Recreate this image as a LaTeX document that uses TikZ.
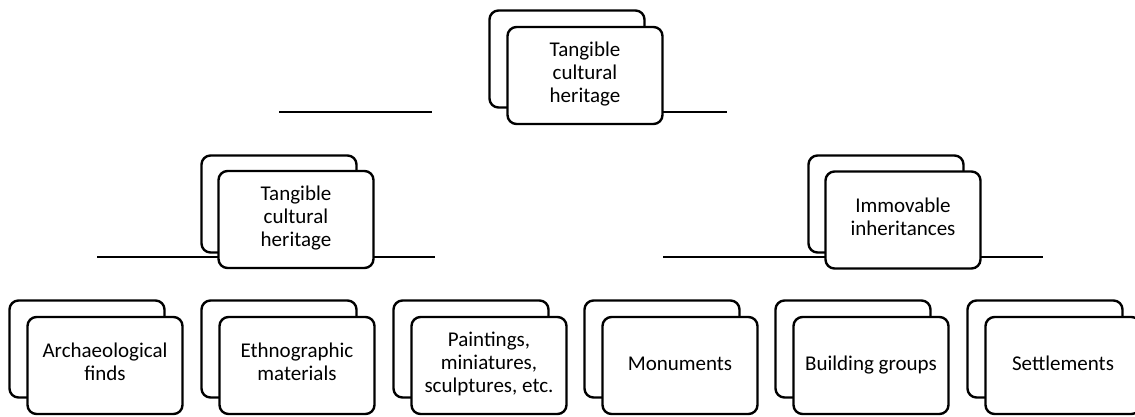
\documentclass[tikz,border=0pt]{standalone}
\usepackage{fontspec}
\setmainfont{Carlito}
\usepackage{tikz}
\tikzset{
  card/.style={draw=black, fill=white, line width=2.4pt, rounded corners=9pt,
    minimum width=155pt, minimum height=97pt, inner sep=2pt, align=center,
    font=\fontsize{21}{23}\selectfont,
    execute at begin node=\strut, execute at end node=\strut},
  rule/.style={draw=black, line width=2pt}
}
\begin{document}
\begin{tikzpicture}[x=1pt,y=-1pt]
\useasboundingbox (0,0) rectangle (1135,416);
\coordinate (ta) at (279,112);
\coordinate (tb) at (432,112);
\coordinate (tc) at (660,112);
\coordinate (td) at (727,112);
\coordinate (la) at (97,257);
\coordinate (lb) at (220,257);
\coordinate (lc) at (372,257);
\coordinate (ld) at (435,257);
\coordinate (ra) at (663,257);
\coordinate (rb) at (826,257);
\coordinate (rc) at (979,257);
\coordinate (rd) at (1043,257);
\draw[rule] (ta) -- (tb);
\draw[rule] (tc) -- (td);
\draw[rule] (la) -- (lb);
\draw[rule] (lc) -- (ld);
\draw[rule] (ra) -- (rb);
\draw[rule] (rc) -- (rd);
\node[card] (topback) at (567,59) {};
\node[card] (top) at (585,75.5) {Tangible\\cultural\\heritage};
\node[card] (tangback) at (279,204) {};
\node[card] (tang) at (296,219.5) {Tangible\\cultural\\heritage};
\node[card] (immback) at (886,204) {};
\node[card] (imm) at (903,220) {Immovable\\inheritances};
\node[card] (archback) at (87,349) {};
\node[card] (arch) at (105,365.5) {Archaeological\\finds};
\node[card] (ethnback) at (279,349) {};
\node[card] (ethn) at (297,365.5) {Ethnographic\\materials};
\node[card] (paintback) at (471,349) {};
\node[card] (paint) at (489,365.5) {Paintings,\\miniatures,\\sculptures, etc.};
\node[card] (monback) at (662,349) {};
\node[card] (mon) at (680,365.5) {Monuments};
\node[card] (buildback) at (853,349) {};
\node[card] (build) at (871,365.5) {Building groups};
\node[card] (settback) at (1045,349) {};
\node[card] (sett) at (1063,365.5) {Settlements};
\end{tikzpicture}
\end{document}
